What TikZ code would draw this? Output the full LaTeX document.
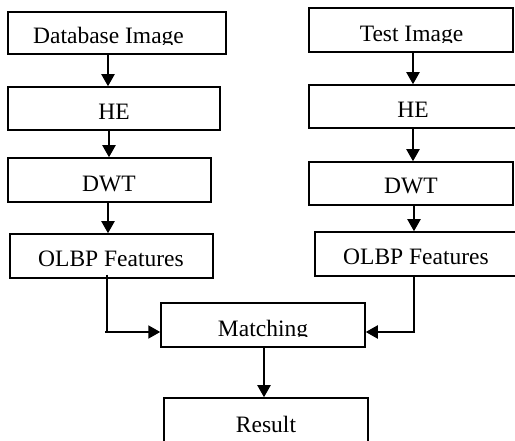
\documentclass[tikz,border=0pt]{standalone}
\usepackage{fontspec}
\setmainfont{Liberation Serif}
\usetikzlibrary{arrows.meta}
\begin{document}
\begin{tikzpicture}[x=1pt,y=-1pt,
  box/.style={draw,line width=1.5pt,inner sep=0pt},
  lbl/.style={anchor=base,inner sep=0pt,font=\fontsize{23.5}{28}\selectfont},
  arr/.style={line width=2pt,-{Triangle[length=12pt,width=13pt]}},
  ln/.style={line width=2pt}]
\useasboundingbox (0,0) rectangle (515,441);
\clip (0,0) rectangle (515,441);
% column coordinates
\coordinate (cl) at (108,0);
\coordinate (cr) at (413,0);
\coordinate (cm) at (264,0);
% boxes
\node[box,minimum width=218pt,minimum height=42pt] (dbimg) at (117,33) {};
\node[box,minimum width=212pt,minimum height=43pt] (he1) at (114,108.5) {};
\node[box,minimum width=203pt,minimum height=44pt] (dwt1) at (109.5,180) {};
\node[box,minimum width=203pt,minimum height=44pt] (olbp1) at (111.5,256) {};
\node[box,minimum width=204pt,minimum height=44pt] (test) at (411,30) {};
\node[box,minimum width=213pt,minimum height=43pt] (he2) at (415.5,106.5) {};
\node[box,minimum width=204pt,minimum height=43pt] (dwt2) at (411,183.5) {};
\node[box,minimum width=207pt,minimum height=44pt] (olbp2) at (418.5,254) {};
\node[box,minimum width=204pt,minimum height=44pt] (match) at (263,325) {};
\node[box,minimum width=204pt,minimum height=62pt] (result) at (266,429) {};
% texts
\begin{scope}
\clip (8,12) rectangle (226,45);
\node[lbl] (tdb) at (108.5,44) {Database Image};
\end{scope}
\begin{scope}
\clip (309,8) rectangle (513,43);
\node[lbl] (ttest) at (411.5,42) {Test Image};
\end{scope}
\begin{scope}
\clip (161,303) rectangle (365,336.5);
\node[lbl] (tmatch) at (263,337) {Matching};
\end{scope}
\node[lbl] (the1) at (114,120) {HE};
\node[lbl] (tdwt1) at (109,192) {DWT};
\node[lbl] (tolbp1) at (111,267) {OLBP Features};
\node[lbl] (the2) at (413,118) {HE};
\node[lbl] (tdwt2) at (411,194) {DWT};
\node[lbl] (tolbp2) at (416,265) {OLBP Features};
\node[lbl] (tres) at (266,432) {Result};
% connectors
\draw[arr] (dbimg.south -| cl) -- (he1.north -| cl);
\draw[arr] ([xshift=1pt]he1.south -| cl) -- ([xshift=1pt]dwt1.north -| cl);
\draw[arr] (dwt1.south -| cl) -- (olbp1.north -| cl);
\draw[arr] (test.south -| cr) -- (he2.north -| cr);
\draw[arr] (he2.south -| cr) -- (dwt2.north -| cr);
\draw[arr] ([xshift=1pt]dwt2.south -| cr) -- ([xshift=1pt]olbp2.north -| cr);
\coordinate (jl) at (107,332);
\coordinate (jr) at (414,332);
\draw[ln] ([yshift=4pt]olbp1.south -| jl) -- (jl);
\draw[arr] ([xshift=-2pt]jl) -- (match.west |- jl);
\draw[ln] (olbp2.south -| jr) -- (jr);
\draw[arr] ([xshift=1pt]jr) -- (match.east |- jr);
\draw[arr] (match.south -| cm) -- (result.north -| cm);
\end{tikzpicture}
\end{document}
